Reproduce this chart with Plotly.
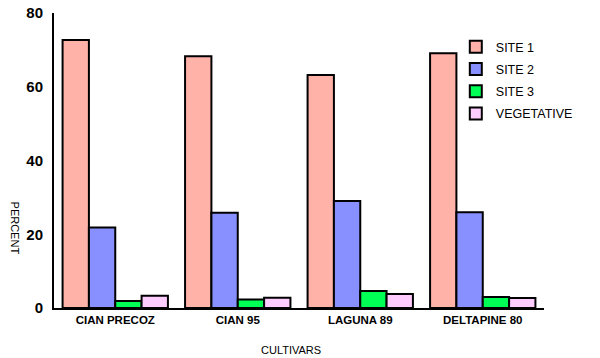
import plotly.graph_objects as go

cultivars = ["CIAN PRECOZ", "CIAN 95", "LAGUNA 89", "DELTAPINE 80"]
site1 = [72.7, 68.3, 63.2, 69.1]
site2 = [21.8, 25.8, 29.0, 26.0]
site3 = [1.9, 2.3, 4.6, 3.0]
vegetative = [3.3, 2.8, 3.8, 2.7]

series = [
    ("SITE 1", site1, "#FFB3A8"),
    ("SITE 2", site2, "#8890FF"),
    ("SITE 3", site3, "#00FF55"),
    ("VEGETATIVE", vegetative, "#FFCCFF"),
]

fig = go.Figure()
for name, vals, col in series:
    fig.add_trace(go.Bar(
        x=cultivars, y=vals, name=name, legendgroup=name,
        marker=dict(color=col, line=dict(color="black", width=2)),
    ))

fig.update_layout(
    width=600, height=358,
    margin=dict(l=54, r=56, t=13, b=50, autoexpand=False),
    paper_bgcolor="white", plot_bgcolor="white",
    barmode="group", bargap=0.14, bargroupgap=0,
    font=dict(family="Arial, Liberation Sans, sans-serif", color="black"),
    showlegend=True,
    legend=dict(
        x=0.82, y=0.935, xanchor="left", yanchor="top",
        font=dict(size=12.5, color="black"), traceorder="grouped",
        tracegroupgap=3,
        bgcolor="rgba(0,0,0,0)", itemwidth=30,
    ),
    xaxis=dict(
        range=[-0.5, 3.5], showline=True, linecolor="black", linewidth=2,
        ticks="", showgrid=False, automargin=False,
        tickfont=dict(size=11.5, color="black", weight="bold"),
    ),
    yaxis=dict(
        range=[0, 80], tickvals=[0, 20, 40, 60, 80], showline=True,
        linecolor="black", linewidth=2, ticks="", showgrid=False, zeroline=False,
        automargin=False, ticklabeloverflow="allow",
        tickfont=dict(size=15, color="black", weight="bold"), ticklabelstandoff=6,
    ),
    annotations=[
        dict(text="CULTIVARS", x=0.484, y=-0.115, xref="paper", yref="paper",
             xanchor="center", yanchor="top", showarrow=False,
             font=dict(size=11, color="black")),
        dict(text="PERCENT", x=-0.08, y=0.27, xref="paper", yref="paper",
             xanchor="center", yanchor="middle", showarrow=False, textangle=90,
             font=dict(size=11, color="black")),
    ],
)

fig.write_html(
    "out.html",
    config={"displayModeBar": False},
    post_script="document.body.style.margin='0';document.body.style.padding='0';",
)
